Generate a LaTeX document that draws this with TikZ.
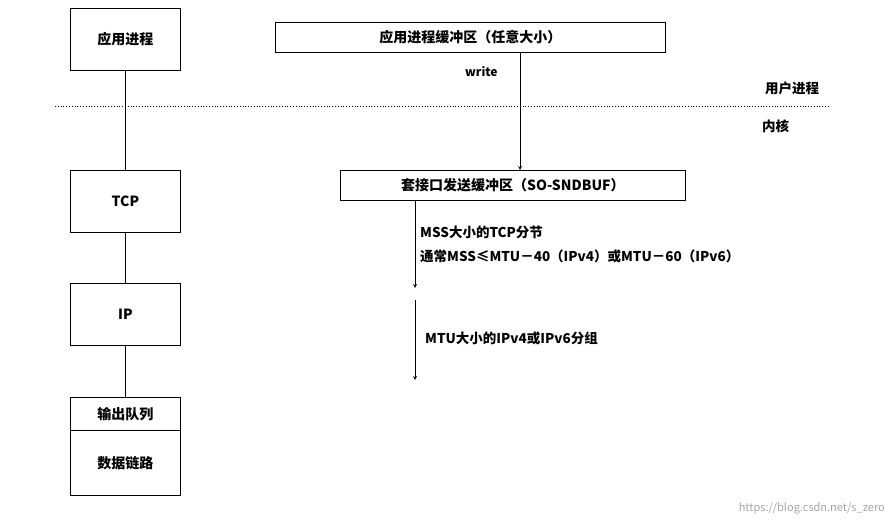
\documentclass[tikz,border=0pt]{standalone}
\usepackage{fontspec}
\setmainfont{Noto Sans CJK SC}
\begin{document}
\begin{tikzpicture}[x=1pt,y=-1pt,
  box/.style={draw,thick,minimum height=#1,inner sep=0pt,anchor=north west,font=\fontsize{14}{16}\selectfont\bfseries},
  lbl/.style={anchor=west,inner sep=0pt,font=\fontsize{13.5}{15}\selectfont\bfseries},
  arr/.style={->,>=stealth,thick}]
\fill[white] (0,0) rectangle (892,525);
\useasboundingbox (0,0) rectangle (892,525);
\node[box=62pt,minimum width=110pt] (app) at (70,8) {应用进程};
\node[box=62pt,minimum width=110pt] (tcp) at (70,170) {TCP};
\node[box=62pt,minimum width=110pt] (ip) at (70,283) {IP};
\node[box=33pt,minimum width=110pt] (q) at (70,397) {输出队列};
\node[box=65pt,minimum width=110pt] (dl) at (70,430) {数据链路};
\draw[thick] (app.south) -- (tcp.north);
\draw[thick] (tcp.south) -- (ip.north);
\draw[thick] (ip.south) -- (q.north);
\node[box=30pt,minimum width=390pt] (buf) at (275,22) {应用进程缓冲区（任意大小）};
\node[box=30pt,minimum width=345pt] (sock) at (340,170) {套接口发送缓冲区（SO-SNDBUF）};
\coordinate (bt) at (520,52);
\coordinate (st) at (520,170);
\draw[arr] (bt) -- (st);
\node[lbl,font=\fontsize{12}{14}\selectfont\bfseries] (w) at (465,72) {write};
\draw[thick,dotted] (55,106) -- (830,106);
\node[lbl] (u) at (765,88) {用户进程};
\node[lbl] (k) at (762,126) {内核};
\coordinate (a1) at (415,200);
\coordinate (a2) at (415,288);
\coordinate (a3) at (415,300);
\coordinate (a4) at (415,380);
\draw[arr] (a1) -- (a2);
\draw[arr] (a3) -- (a4);
\node[lbl] (t1) at (420,232) {MSS大小的TCP分节};
\node[lbl] (t2) at (420,256) {通常MSS≤MTU－40（IPv4）或MTU－60（IPv6）};
\node[lbl] (t3) at (425,338) {MTU大小的IPv4或IPv6分组};
\node[anchor=east,inner sep=0pt,text=gray!70,font=\fontsize{11}{13}\selectfont] (wm) at (885,508) {https://blog.csdn.net/s\_zero};
\end{tikzpicture}
\end{document}
